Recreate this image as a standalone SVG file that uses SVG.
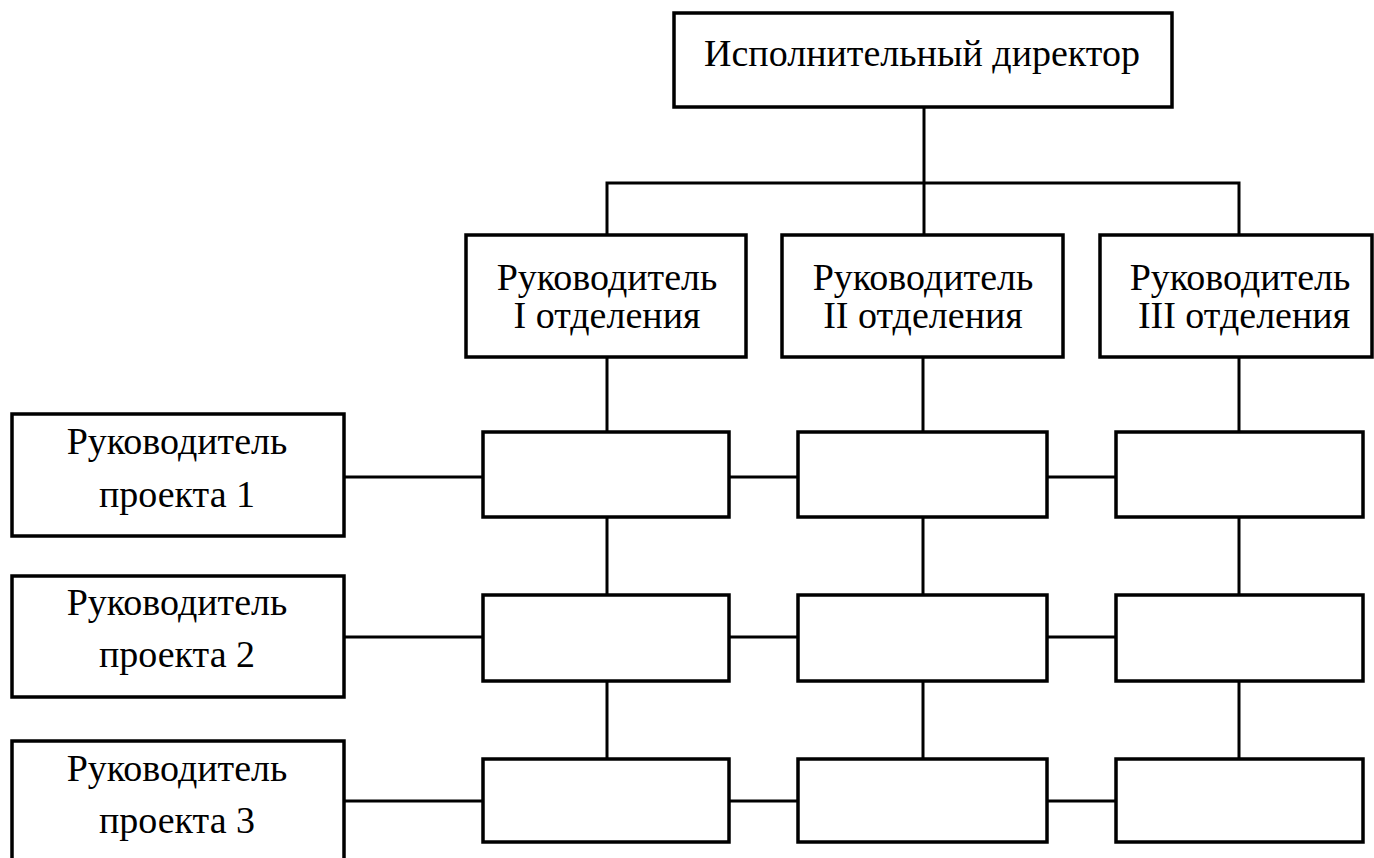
<svg xmlns="http://www.w3.org/2000/svg" width="1374" height="858" viewBox="0 0 1374 858">
<style>
.box{fill:#fff;stroke:#000;stroke-width:3.5}
.ln{stroke:#000;stroke-width:3;fill:none}
.t{font-family:"Liberation Serif","Times New Roman",serif;font-size:38px;fill:#000;text-anchor:middle}
</style>
<rect width="1374" height="858" fill="#fff"/>
<g id="connectors">
<line class="ln" x1="924" y1="107" x2="924" y2="235"/>
<polyline class="ln" points="607,235 607,183 1239,183 1239,235"/>
<line class="ln" x1="607" y1="357" x2="607" y2="759"/>
<line class="ln" x1="923" y1="357" x2="923" y2="759"/>
<line class="ln" x1="1239" y1="357" x2="1239" y2="759"/>
<line class="ln" x1="344" y1="477" x2="1116" y2="477"/>
<line class="ln" x1="344" y1="637" x2="1116" y2="637"/>
<line class="ln" x1="344" y1="801" x2="1116" y2="801"/>
</g>
<g id="director"><rect class="box" x="674" y="13" width="498" height="94"/><text class="t" x="922" y="66">Исполнительный директор</text></g>
<g id="dept1"><rect class="box" x="466" y="235" width="280" height="122"/><text class="t" x="607" y="290">Руководитель</text><text class="t" x="607" y="328">I отделения</text></g>
<g id="dept2"><rect class="box" x="782" y="235" width="281" height="122"/><text class="t" x="923" y="290">Руководитель</text><text class="t" x="923" y="328">II отделения</text></g>
<g id="dept3"><rect class="box" x="1100" y="235" width="272" height="122"/><text class="t" x="1240" y="290">Руководитель</text><text class="t" x="1244" y="328">III отделения</text></g>
<g id="pm1"><rect class="box" x="12" y="414" width="332" height="122"/><text class="t" x="177" y="454">Руководитель</text><text class="t" x="177" y="507">проекта 1</text></g>
<g id="pm2"><rect class="box" x="12" y="576" width="332" height="121"/><text class="t" x="177" y="615">Руководитель</text><text class="t" x="177" y="667">проекта 2</text></g>
<g id="pm3"><rect class="box" x="12" y="741" width="332" height="125"/><text class="t" x="177" y="781">Руководитель</text><text class="t" x="177" y="833">проекта 3</text></g>
<g id="c11"><rect class="box" x="483" y="432" width="246" height="85"/></g>
<g id="c12"><rect class="box" x="798" y="432" width="249" height="85"/></g>
<g id="c13"><rect class="box" x="1116" y="432" width="247" height="85"/></g>
<g id="c21"><rect class="box" x="483" y="595" width="246" height="86"/></g>
<g id="c22"><rect class="box" x="798" y="595" width="249" height="86"/></g>
<g id="c23"><rect class="box" x="1116" y="595" width="247" height="86"/></g>
<g id="c31"><rect class="box" x="483" y="759" width="246" height="83"/></g>
<g id="c32"><rect class="box" x="798" y="759" width="249" height="83"/></g>
<g id="c33"><rect class="box" x="1116" y="759" width="247" height="83"/></g>
</svg>
